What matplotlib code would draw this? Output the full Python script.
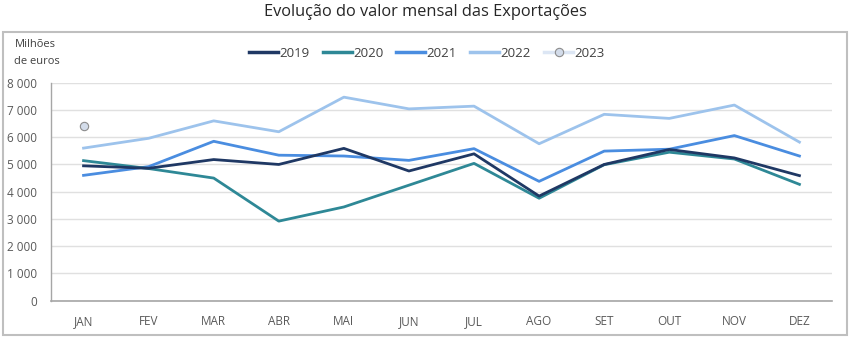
import matplotlib.pyplot as plt
from matplotlib.patches import Rectangle
from matplotlib.lines import Line2D
import numpy as np

plt.rcParams['font.family'] = ['Open Sans', 'DejaVu Sans']

months = ["JAN", "FEV", "MAR", "ABR", "MAI", "JUN", "JUL", "AGO", "SET", "OUT", "NOV", "DEZ"]

v2019 = [4950, 4860, 5180, 5000, 5590, 4760, 5390, 3840, 5000, 5550, 5240, 4590]
v2020 = [5140, 4850, 4500, 2920, 3440, 4240, 5040, 3760, 4990, 5450, 5200, 4270]
v2021 = [4600, 4920, 5850, 5340, 5310, 5150, 5580, 4380, 5490, 5560, 6060, 5310]
v2022 = [5600, 5960, 6600, 6200, 7470, 7040, 7140, 5760, 6840, 6690, 7180, 5820]
v2023 = [6410]

yticks = [0, 1000, 2000, 3000, 4000, 5000, 6000, 7000, 8000]
ytick_labels = ["0", "1 000", "2 000", "3 000", "4 000", "5 000", "6 000", "7 000", "8 000"]

# colours of each year
c2019 = "#1f3864"
c2020 = "#2e8896"
c2021 = "#4a8de0"
c2022 = "#9dc3ec"
c2023 = "#dce6f4"

fig = plt.figure(figsize=(8.5, 3.39), dpi=100)
ax = fig.add_axes([0.06, 0.113, 0.9188, 0.643])

x = np.arange(len(months))
ax.plot(x, v2019, color=c2019, lw=2.0, zorder=5)
ax.plot(x, v2020, color=c2020, lw=2.0, zorder=4)
ax.plot(x, v2021, color=c2021, lw=2.0, zorder=3)
ax.plot(x, v2022, color=c2022, lw=2.0, zorder=2)
ax.plot(x[:len(v2023)], v2023, color=c2023, lw=2.0, marker='o', ms=6,
        markerfacecolor="#d3dcea", markeredgecolor="#8c8c8c", markeredgewidth=0.8, zorder=6)

ax.set_xlim(-0.5, 11.5)
ax.set_ylim(0, 8000)
ax.set_xticks(x)
ax.set_xticklabels(months)
ax.set_yticks(yticks)
ax.set_yticklabels(ytick_labels)
ax.tick_params(axis='both', length=0, labelsize=8.5, colors="#595959")
ax.tick_params(axis='x', pad=10)
ax.tick_params(axis='y', pad=10)

ax.grid(axis='y', color="#e0e0e0", lw=1.0)
ax.set_axisbelow(True)
for s in ['top', 'right']:
    ax.spines[s].set_visible(False)
ax.spines['left'].set_color("#a6a6a6")
ax.spines['bottom'].set_color("#a6a6a6")
ax.spines['left'].set_linewidth(1.0)
ax.spines['bottom'].set_linewidth(1.2)

# legend
handles = [
    Line2D([], [], color=c2019, lw=2.5),
    Line2D([], [], color=c2020, lw=2.5),
    Line2D([], [], color=c2021, lw=2.5),
    Line2D([], [], color=c2022, lw=2.5),
    Line2D([], [], color=c2023, lw=2.5, marker='o', ms=6,
           markerfacecolor="#d3dcea", markeredgecolor="#8c8c8c", markeredgewidth=0.8),
]
fig.legend(handles, ["2019", "2020", "2021", "2022", "2023"], loc='center',
           bbox_to_anchor=(0.502, 0.843), ncol=5, frameon=False, fontsize=9.5,
           handlelength=2.2, handletextpad=0.1, columnspacing=1.0, labelcolor="#404040")

fig.text(0.017, 0.843, "Milhões\nde euros", fontsize=8, color="#404040",
         ha='left', va='center', linespacing=1.7)

fig.text(0.5, 0.965, "Evolução do valor mensal das Exportações", fontsize=11.8,
         color="#262626", ha='center', va='center')

# outer frame
fig.patches.append(Rectangle((3 / 850, 1 - 335 / 339), 844 / 850, 303 / 339,
                             transform=fig.transFigure, fill=False,
                             edgecolor="#bfbfbf", lw=1.5))

fig.savefig("out.png", dpi=100)
